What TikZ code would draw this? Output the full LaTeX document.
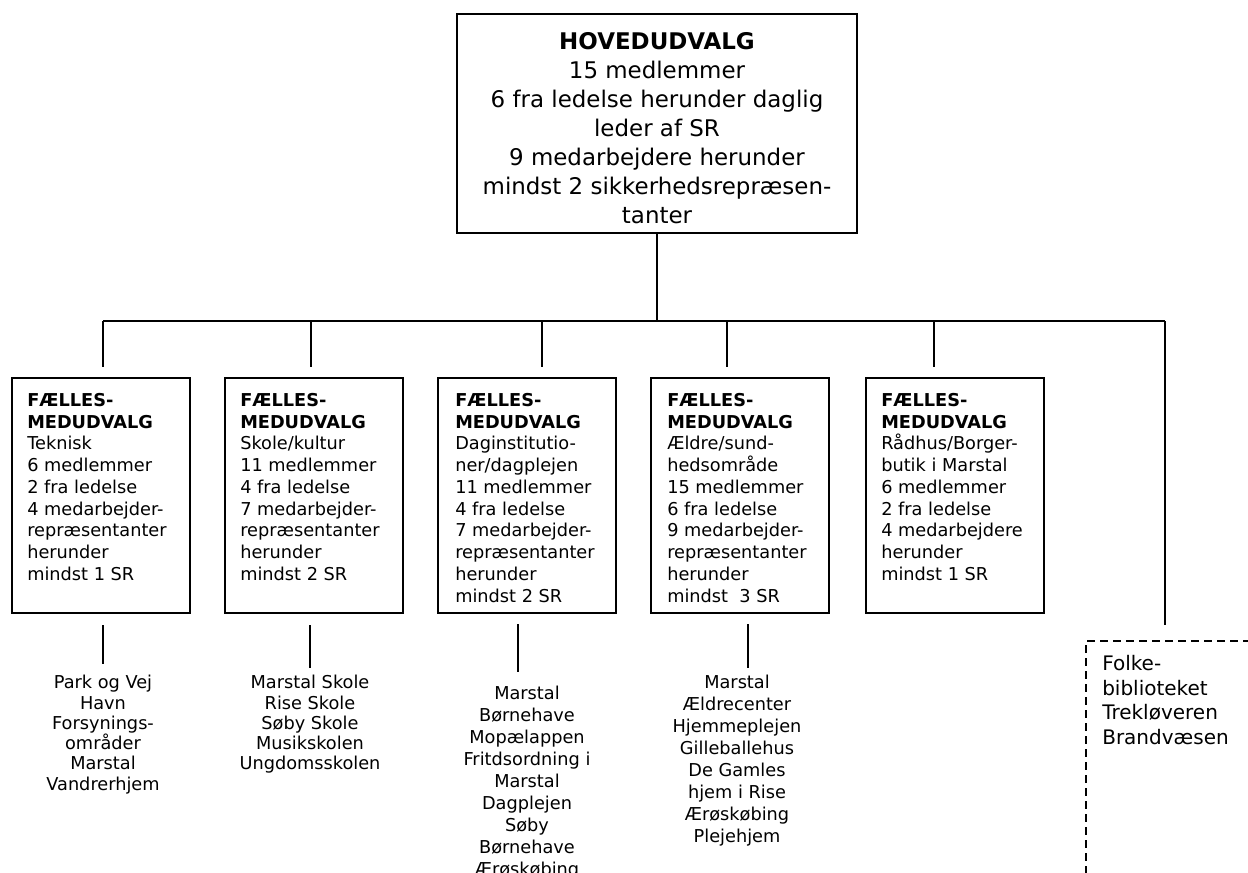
\documentclass[tikz,border=0pt]{standalone}
\usepackage{fontspec}
\setmainfont{DejaVu Sans}
\begin{document}
\begin{tikzpicture}[x=0.75pt,y=-0.75pt,
  conn/.style={line width=1.5pt},
  topbox/.style={draw, line width=1.8pt, minimum width=300pt, minimum height=164.25pt, inner sep=0pt},
  mbox/.style={draw, line width=1.5pt, minimum width=133.5pt, minimum height=176.25pt, inner sep=0pt},
  toptext/.style={anchor=north, inner sep=0pt, align=center, font=\fontsize{17.2}{21.75}\selectfont},
  mtext/.style={anchor=north west, inner sep=0pt, align=left, font=\fontsize{13.3}{16.3}\selectfont},
  subtext/.style={anchor=north, inner sep=0pt, align=center, font=\fontsize{13.3}{15.2}\selectfont},
  subtextb/.style={anchor=north, inner sep=0pt, align=center, font=\fontsize{13.3}{16.5}\selectfont},
  dbox/.style={draw, dash pattern=on 6pt off 3.75pt, line width=1.4pt, minimum width=200pt, minimum height=250pt, inner sep=0pt, anchor=north west},
  dtext/.style={anchor=north west, inner sep=0pt, align=left, font=\fontsize{15}{18.4}\selectfont}]
\useasboundingbox (0,0) rectangle (1248,872);
\clip (0,0) rectangle (1248,872);

% top box
\node[topbox] (top) at (657,123.5) {};
\node[toptext] (toptxt) at (657,32) {\textbf{HOVEDUDVALG}\\15 medlemmer\\6 fra ledelse herunder daglig\\leder af SR\\9 medarbejdere herunder\\mindst 2 sikkerhedsrepræsen-\\tanter};

% committee boxes
\node[mbox] (b1) at (100.5,495.5) {};
\node[mbox] (b2) at (313.5,495.5) {};
\node[mbox] (b3) at (526.5,495.5) {};
\node[mbox] (b4) at (740,495.5) {};
\node[mbox] (b5) at (954.5,495.5) {};

\node[mtext] (t1) at (27,393) {\textbf{FÆLLES-}\\\textbf{MEDUDVALG}\\Teknisk\\6 medlemmer\\2 fra ledelse\\4 medarbejder-\\repræsentanter\\herunder\\mindst 1 SR};
\node[mtext] (t2) at (240,393) {\textbf{FÆLLES-}\\\textbf{MEDUDVALG}\\Skole/kultur\\11 medlemmer\\4 fra ledelse\\7 medarbejder-\\repræsentanter\\herunder\\mindst 2 SR};
\node[mtext] (t3) at (455,393) {\textbf{FÆLLES-}\\\textbf{MEDUDVALG}\\Daginstitutio-\\ner/dagplejen\\11 medlemmer\\4 fra ledelse\\7 medarbejder-\\repræsentanter\\herunder\\mindst 2 SR};
\node[mtext] (t4) at (667,393) {\textbf{FÆLLES-}\\\textbf{MEDUDVALG}\\Ældre/sund-\\hedsområde\\15 medlemmer\\6 fra ledelse\\9 medarbejder-\\repræsentanter\\herunder\\mindst\ \ 3 SR};
\node[mtext] (t5) at (881,393) {\textbf{FÆLLES-}\\\textbf{MEDUDVALG}\\Rådhus/Borger-\\butik i Marstal\\6 medlemmer\\2 fra ledelse\\4 medarbejdere\\herunder\\mindst 1 SR};

% dashed box
\node[dbox] (d) at (1085,640) {};
\node[dtext] (dt) at (1102,655) {Folke-\\biblioteket\\Trekløveren\\Brandvæsen};

% sub-unit lists
\node[subtext] (s1) at (103,675) {Park og Vej\\Havn\\Forsynings-\\områder\\Marstal\\Vandrerhjem};
\node[subtext] (s2) at (310,675) {Marstal Skole\\Rise Skole\\Søby Skole\\Musikskolen\\Ungdomsskolen};
\node[subtextb] (s3) at (527,686) {Marstal\\Børnehave\\Mopælappen\\Fritdsordning i\\Marstal\\Dagplejen\\Søby\\Børnehave\\Ærøskøbing};
\node[subtextb] (s4) at (737,675) {Marstal\\Ældrecenter\\Hjemmeplejen\\Gilleballehus\\De Gamles\\hjem i Rise\\Ærøskøbing\\Plejehjem};

% connector coordinates
\coordinate (j0) at (657,321);
\coordinate (j1) at (103,321);
\coordinate (j2) at (311,321);
\coordinate (j3) at (542,321);
\coordinate (j4) at (727,321);
\coordinate (j5) at (934,321);
\coordinate (jR) at (1165,321);

\draw[conn] (top.south) -- (j0);
\draw[conn] (j1) -- (jR);
\draw[conn, shorten >=7.5pt] (j1) -- (j1 |- b1.north);
\draw[conn, shorten >=7.5pt] (j2) -- (j2 |- b2.north);
\draw[conn, shorten >=7.5pt] (j3) -- (j3 |- b3.north);
\draw[conn, shorten >=7.5pt] (j4) -- (j4 |- b4.north);
\draw[conn, shorten >=7.5pt] (j5) -- (j5 |- b5.north);
\draw[conn, shorten >=11.25pt] (jR) -- (jR |- d.north);

% lines below boxes
\coordinate (l1) at (103,625);
\coordinate (l2) at (310,625);
\coordinate (l3) at (518,624);
\coordinate (l4) at (748,624);
\draw[conn] (l1) -- (l1 |- 0,664);
\draw[conn] (l2) -- (l2 |- 0,668);
\draw[conn] (l3) -- (l3 |- 0,672);
\draw[conn] (l4) -- (l4 |- 0,668);
\end{tikzpicture}
\end{document}
